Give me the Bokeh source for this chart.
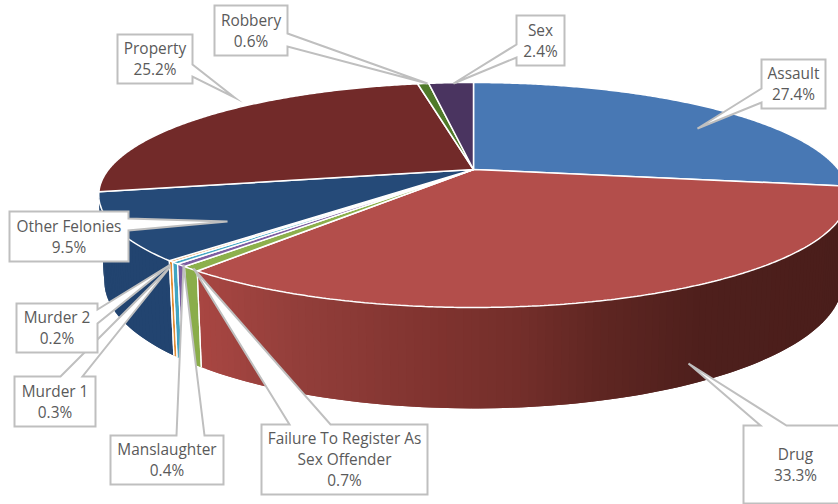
import math
from bokeh.plotting import figure
from bokeh.core.properties import value
from bokeh.embed import file_html
from bokeh.resources import INLINE

# ---- data -----------------------------------------------------------
categories = ["Assault", "Drug", "Failure To Register As Sex Offender", "Manslaughter",
              "Murder 1", "Murder 2", "Other Felonies", "Property", "Robbery", "Sex"]
shares = [27.4, 33.3, 0.7, 0.4, 0.3, 0.2, 9.5, 25.2, 0.6, 2.4]

# ---- styles ---------------------------------------------------------
top_colors = ["#4878b4", "#b34e4b", "#8cb04c", "#7d5ea2", "#45a7c4", "#e58f38",
              "#254a78", "#722a29", "#4f7a2a", "#4a3460"]
wall_colors = [None, None, "#8aad4a", "#7a5aa0", "#41a5c2", "#e38c33",
               "#224470", None, None, None]
drug_wall_stops = [(200, (168, 70, 66)), (300, (146, 62, 58)), (433, (128, 51, 47)),
                   (520, (115, 46, 42)), (600, (95, 38, 34)), (700, (78, 31, 28)),
                   (840, (74, 30, 27))]

# ---- projection of the pie (page pixels) ------------------------------
CX, CY = 473.0, 169.0
A, B, K = 106.7, 365.0, 0.2267
LOW_Y, LOW_G, LOW_S = 252.0, 1.13, 0.985


def rim(t):
    u, v = math.sin(t), math.cos(t)
    d = 1 + K * v
    return CX + B * u / d, CY - A * v / d


def low(t):
    u, v = math.sin(t), math.cos(t)
    d = 1 + K * v
    return CX + LOW_S * B * u / d, LOW_Y - LOW_G * A * v / d


def drug_color(x):
    for (x0, c0), (x1, c1) in zip(drug_wall_stops, drug_wall_stops[1:]):
        if x <= x1:
            f = max(0.0, (x - x0) / (x1 - x0))
            c = [round(a + (b - a) * f) for a, b in zip(c0, c1)]
            return "#%02x%02x%02x" % tuple(c)
    return "#4a1e1b"


total = sum(shares)
edges = [0.0]
for s in shares:
    edges.append(edges[-1] + s / total * 2 * math.pi)

p = figure(width=838, height=504, x_range=(0, 838), y_range=(504, 0),
           output_backend="svg", toolbar_location=None, min_border=0)
p.axis.visible = False
p.grid.visible = False
p.outline_line_color = None
p.background_fill_color = "white"
p.border_fill_color = "white"

# walls: each strip overlaps the next one, so that the gradient has no seams.
# They run from the left of the pie to the right, so the later strip wins.
wall_order = ["Other Felonies", "Murder 2", "Murder 1", "Manslaughter",
              "Failure To Register As Sex Offender", "Drug"]
wx, wy, wc = [], [], []
sepx, sepy = [], []
for name in wall_order:
    i = categories.index(name)
    t0, t1 = edges[i], edges[i + 1]
    n = max(1, int((t1 - t0) / math.radians(1.0)))
    for k in range(n - 1, -1, -1):
        a = t0 + (t1 - t0) * k / n
        b = t0 + (t1 - t0) * (k + 1) / n
        ext = t0 if k == 0 else t0 + (t1 - t0) * (k - 1) / n
        pts = [rim(ext), rim(b), low(b), low(ext)]
        wx.append([q[0] for q in pts])
        wy.append([q[1] for q in pts])
        mx = (rim(a)[0] + rim(b)[0] + low(a)[0] + low(b)[0]) / 4
        wc.append(drug_color(mx) if name == "Drug" else wall_colors[i])
    for t in (t0, t1):
        if (name == "Drug" and t == t0) or (name == "Other Felonies" and t == t1):
            continue
        r, l = rim(t), low(t)
        sepx.append([r[0], l[0]])
        sepy.append([r[1], l[1]])
p.patches(xs=wx, ys=wy, fill_color=wc, line_color=None)
p.multi_line(xs=sepx, ys=sepy, line_color="white", line_width=1.2)

# top faces
tx, ty = [], []
for i in range(len(categories)):
    t0, t1 = edges[i], edges[i + 1]
    n = max(2, int((t1 - t0) / math.radians(0.5)))
    pts = [(CX, CY)] + [rim(t0 + (t1 - t0) * k / n) for k in range(n + 1)]
    tx.append([q[0] for q in pts])
    ty.append([q[1] for q in pts])
p.patches(xs=tx, ys=ty, fill_color=top_colors, line_color="white", line_width=1.5)

# ---- callouts (layout only, page pixels) -------------------------------
callouts = [
    ("Murder 1", (14, 376, 95, 426), "top", 60, 82, (170, 266)),
    ("Murder 2", (16, 303, 97, 352), "right", 309, 323, (170, 264)),
    ("Manslaughter", (110, 435, 223, 484), "top", 176, 204, (183, 264)),
    ("Failure To Register As Sex Offender", (261, 424, 427, 494), "top", 289, 330, (193, 268)),
    ("Other Felonies", (9, 211, 128, 261), "right", 218, 230, (227, 221)),
    ("Property", (117, 34, 192, 83), "right", 64, 76, (234, 97)),
    ("Robbery", (214, 5, 287, 55), "right", 33, 46, (427, 83)),
    ("Sex", (516, 15, 564, 65), "left", 44, 57, (453, 83)),
    ("Assault", (761, 59, 825, 108), "left", 88, 102, (697, 128)),
    ("Drug", (743, 425, 850, 503), "top", 760, 786, (688, 363)),
]
label_lines = {"Failure To Register As Sex Offender": ["Failure To Register As", "Sex Offender"]}
line_h = 21

for name, (x0, y0, x1, y1), side, b0, b1, tip in callouts:
    if side == "top":
        path = [(x0, y0), (b0, y0), tip, (b1, y0), (x1, y0), (x1, y1), (x0, y1)]
    elif side == "right":
        path = [(x0, y0), (x1, y0), (x1, b0), tip, (x1, b1), (x1, y1), (x0, y1)]
    else:
        path = [(x0, y0), (x1, y0), (x1, y1), (x0, y1), (x0, b1), tip, (x0, b0)]
    p.patch(x=[q[0] for q in path], y=[q[1] for q in path], fill_color="white",
            line_color="#bfbfbf", line_width=2, line_join="miter")

txt, txx, txy = [], [], []
for name, (x0, y0, x1, y1), side, b0, b1, tip in callouts:
    share = shares[categories.index(name)]
    lines = label_lines.get(name, [name]) + [f"{share}%"]
    cx = (x1 + x0) / 2 if name != "Drug" else 795
    cy = (y0 + y1) / 2
    for j, ln in enumerate(lines):
        txt.append(ln)
        txx.append(cx)
        txy.append(cy + (j - (len(lines) - 1) / 2) * line_h)
p.text(x=txx, y=txy, text=txt, text_font=value("Open Sans"), text_font_size="15.4px",
       text_color="#5a5a5a", text_align="center", text_baseline="middle")

open("out.html", "w").write(file_html(p, INLINE))
